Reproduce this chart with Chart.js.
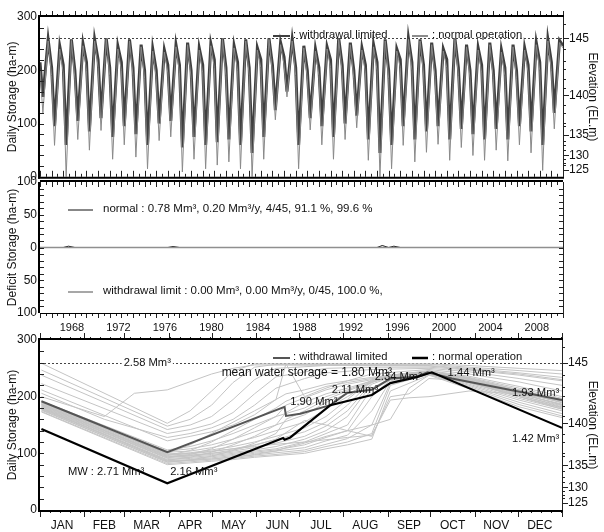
<!DOCTYPE html>
<html>
<head>
<meta charset="utf-8">
<title>Daily storage</title>
<script src="https://cdn.jsdelivr.net/npm/chart.js@4.4.1/dist/chart.umd.min.js"></script>
<style>
  body { margin: 0; background: #fff; }
  #wrap { position: relative; width: 604px; height: 532px; overflow: hidden; }
  #wrap canvas { position: absolute; left: 0; }
</style>
</head>
<body>
<div id="wrap">
  <canvas id="topChart" width="604" height="190" style="top:0"></canvas>
  <canvas id="deficitChart" width="604" height="165" style="top:170px"></canvas>
  <canvas id="yearChart" width="604" height="207" style="top:325px"></canvas>
</div>
<script>
// ---- top panel: one set of key values per year, 1966-2010
const startYear = 1966;
const yearLabels = [1968, 1972, 1976, 1980, 1984, 1988, 1992, 1996, 2000, 2004, 2008];

const wlJan    = [215, 205, 210, 200, 215, 220, 205, 215, 205, 200, 200, 210, 210, 200, 210, 220, 205, 215, 205, 220, 210, 225, 205, 200, 205, 220, 210, 200, 210, 215, 200, 220, 215, 210, 200, 220, 205, 200, 210, 200, 205, 200, 210, 215, 215];
const wlTrough = [150, 95, 60, 105, 85, 110, 75, 95, 80, 60, 100, 105, 55, 75, 60, 65, 70, 60, 45, 75, 125, 160, 60, 110, 95, 75, 100, 115, 70, 45, 60, 95, 70, 85, 95, 70, 90, 80, 70, 90, 70, 95, 85, 60, 120];
const wlPeak   = [258, 245, 258, 250, 258, 260, 245, 258, 248, 240, 238, 248, 252, 242, 250, 260, 246, 258, 242, 260, 252, 258, 246, 240, 244, 260, 252, 242, 248, 258, 240, 260, 258, 252, 240, 260, 248, 242, 252, 238, 248, 242, 252, 258, 256];

const noJan    = [200, 190, 195, 185, 200, 205, 190, 200, 190, 185, 185, 195, 195, 185, 195, 205, 190, 200, 190, 205, 195, 210, 190, 185, 190, 205, 195, 185, 195, 200, 185, 205, 200, 195, 185, 205, 190, 185, 195, 185, 190, 185, 195, 200, 200];
const noTrough = [120, 59, 0, 70, 50, 87, 33, 60, 37, 15, 68, 75, 9, 33, 15, 22, 28, 15, 0, 33, 107, 150, 15, 88, 60, 33, 70, 92, 31, 0, 15, 59, 28, 46, 61, 31, 55, 40, 31, 50, 30, 60, 45, 12, 90];
const noPeak   = [255, 240, 256, 246, 255, 258, 240, 255, 244, 236, 234, 244, 248, 238, 246, 258, 242, 255, 238, 258, 248, 255, 242, 236, 240, 258, 248, 238, 244, 255, 236, 258, 255, 248, 236, 258, 244, 238, 248, 234, 244, 238, 248, 255, 252];
const endValues = [246, 242]; // end of 2010: withdrawal limited, normal

// ---- elevation axis: storage (ha-m) at each elevation mark
const elevLabels = [145, 140, 135, 130, 125];
const elevStorage = [260, 153, 79, 40, 13];
const elevMinorStorage = [287, 239, 217, 202, 184, 166, 134, 120, 101, 96, 68, 59, 50, 33, 26, 22];
const fullStorage = 260;

// ---- deficit panel
const normalDeficit = [0, 0, 2, 0, 0, 0, 0, 0, 0, 0, 0, 1.5, 0, 0, 0, 0, 0, 0, 0, 0, 0, 0, 0, 0, 0, 0, 0, 0, 0, 3, 2, 0, 0, 0, 0, 0, 0, 0, 0, 0, 0, 0, 0, 0, 0];
const limitDeficit  = [0, 0, 0, 0, 0, 0, 0, 0, 0, 0, 0, 0, 0, 0, 0, 0, 0, 0, 0, 0, 0, 0, 0, 0, 0, 0, 0, 0, 0, 0, 0, 0, 0, 0, 0, 0, 0, 0, 0, 0, 0, 0, 0, 0, 0];

// ---- annual panel (day of year)
const months = ['JAN', 'FEB', 'MAR', 'APR', 'MAY', 'JUN', 'JUL', 'AUG', 'SEP', 'OCT', 'NOV', 'DEC'];
const monthStart = [0, 31, 59, 90, 120, 151, 181, 212, 243, 273, 304, 334, 365];
const n = null;
const dayGrid = [1, 45, 66, 89, 105, 120, 135, 150, 165, 172, 185, 200, 215, 232, 245, 258, 272, 300, 335, 365];
const yearLines = [
  [259, n, n, 153, 175, 210, 245, 258, n, n, n, n, n, n, n, n, 258, 255, 250, 246],
  [247, n, n, 148, 160, 185, 225, 252, 257, n, n, n, n, n, n, n, 257, 252, 246, 240],
  [238, n, n, 142, 150, 165, 195, 230, 250, n, n, 255, n, n, n, n, 255, 250, 242, 234],
  [223, n, n, 135, 142, 152, 172, 205, 235, n, n, 250, n, 252, n, n, 252, 247, 238, 228],
  [206, 160, n, 128, 135, 145, 160, 185, 215, n, 232, 242, n, 248, n, n, 250, 244, 232, 220],
  [200, 165, 206, 212, n, 240, 250, 256, n, n, n, n, n, n, n, n, 254, 248, 240, 230],
  [212, n, n, 122, 130, 138, 150, 168, 195, 258, 200, 215, 228, 240, n, n, 248, 240, 226, 210],
  [192, n, n, 106, 112, 122, 135, 150, 165, n, 180, 200, 212, 228, 238, n, 246, 236, 218, 200],
  [190, n, n, 104, 108, 115, 125, 138, 150, n, 168, 190, 205, 225, 236, n, 245, 234, 215, 197],
  [189, n, n, 102, 104, 110, 118, 128, 140, n, 155, 178, 200, 226, 236, n, 245, 232, 212, 195],
  [187, n, n, 99, 101, 106, 112, 120, 130, n, 145, 165, 195, 230, 238, n, 244, 231, 210, 192],
  [186, n, n, 97, 99, 103, 108, 115, 124, n, 138, 155, 185, 228, 236, n, 244, 230, 208, 190],
  [184, n, n, 95, 97, 100, 104, 110, 118, n, 130, 148, 175, 225, 235, n, 243, 228, 205, 187],
  [183, n, n, 93, 95, 98, 102, 106, 112, n, 125, 140, 165, 222, 234, n, 243, 226, 202, 184],
  [181, n, n, 91, 93, 96, 100, 104, 108, n, 120, 135, 150, 215, 232, n, 242, 224, 200, 181],
  [179, n, n, 89, 91, 94, 98, 102, 106, n, 115, 128, 140, 200, 230, n, 242, 222, 197, 178],
  [178, n, n, 87, 89, 92, 96, 100, 104, n, 110, 122, 132, 175, 228, n, 241, 220, 194, 175],
  [176, n, n, 85, 87, 90, 93, 97, 101, n, 106, 116, 126, 150, 225, n, 240, 218, 190, 170],
  [174, n, n, 82, 85, 88, 91, 95, 98, n, 103, 112, 120, 135, 220, n, 240, 216, 186, 166],
  [173, n, n, 80, 83, 86, 89, 93, 96, n, 100, 108, 115, 125, 210, n, 238, 214, 182, 163],
  [188, n, n, 100, 115, 135, 155, 175, 195, 205, 212, 222, 228, 234, 238, n, 245, 233, 212, 194],
  [185, n, n, 96, 105, 120, 140, 160, 180, 192, 205, 218, 225, 232, 237, n, 244, 231, 209, 189],
  [182, n, n, 92, 98, 108, 125, 145, 165, 185, 198, 212, 222, 230, 236, n, 244, 229, 206, 185],
  [180, n, n, 88, 93, 102, 115, 130, 150, 172, 190, 205, 215, 228, 235, n, 243, 227, 203, 182],
  [177, n, n, 84, 88, 95, 105, 118, 135, 160, 175, 195, 210, 226, 234, n, 242, 225, 200, 178],
  [191, n, n, 98, 100, 104, 108, 112, 116, n, 120, 124, 128, 132, 194, 198, 200, 210, 205, 192],
  [186, n, n, 94, 96, 100, 106, 114, 125, n, 158, 150, 140, 130, 200, 205, 232, 228, 205, 186],
  [180, n, n, 86, 88, 90, 94, 98, 104, 110, 118, 130, 140, 150, 160, 215, 238, 226, 200, 180]
];
const wlMeanDays = [1, 89, 171, 172, 182, 203, 215, 232, 245, 263, 271, 288, 365];
const wlMean     = [192, 102, 182, 166, 170, 185, 207, 212, 232, 235, 243, 232, 194];
const noMeanDays = [1, 89, 170, 171, 175, 203, 232, 245, 264, 274, 365];
const noMean     = [143, 47, 127, 124, 128, 185, 203, 224, 235, 243, 145];

const annualNotes = [
  { text: 'mean water storage = 1.80 Mm³', day: 127, value: 242, size: 12 },
  { text: 'MW : 2.71 Mm³', day: 19.5, value: 67, size: 11.2 },
  { text: '2.16 Mm³', day: 91, value: 67, size: 11.2 },
  { text: '1.90 Mm³', day: 175, value: 190, size: 11.2 },
  { text: '2.11 Mm³', day: 204, value: 212, size: 11.2 },
  { text: '2.34 Mm³', day: 234, value: 235, size: 11.2 },
  { text: '1.44 Mm³', day: 285, value: 242, size: 11.2 },
  { text: '1.93 Mm³', day: 330, value: 206, size: 11.2 },
  { text: '1.42 Mm³', day: 330, value: 125, size: 11.2 }
];

// ---------------------------------------------------------------
const FONT = '"Liberation Sans", Arial, sans-serif';
Chart.defaults.font.family = FONT;
Chart.defaults.font.size = 12;
Chart.defaults.color = '#111';

const crisp = v => Math.round(v) + 0.5;

function seg(ctx, x1, y1, x2, y2, w, color, dash) {
  ctx.save();
  ctx.strokeStyle = color;
  ctx.lineWidth = w;
  if (dash) ctx.setLineDash(dash);
  ctx.beginPath();
  ctx.moveTo(x1, y1);
  ctx.lineTo(x2, y2);
  ctx.stroke();
  ctx.restore();
}

function label(ctx, str, x, y, size, align, bg) {
  ctx.save();
  ctx.font = (size || 12) + 'px ' + FONT;
  ctx.textAlign = align || 'left';
  ctx.textBaseline = 'middle';
  if (bg) {
    const w = ctx.measureText(str).width;
    const x0 = align === 'center' ? x - w / 2 : x;
    ctx.fillStyle = '#fff';
    ctx.fillRect(x0 - 2, y - 6, w + 4, 12);
  }
  ctx.fillStyle = '#111';
  ctx.fillText(str, x, y);
  ctx.restore();
}

function drawFrame(chart) {
  const { ctx, chartArea: a } = chart;
  seg(ctx, a.left - 1, a.top - 2, a.left - 1, a.bottom + 2, 2, '#000');
  seg(ctx, a.left - 2, a.top - 1, a.right + 1, a.top - 1, 2, '#000');
  seg(ctx, a.left - 2, a.bottom + 1, a.right + 1, a.bottom + 1, 2, '#000');
  seg(ctx, crisp(a.right), a.top, crisp(a.right), a.bottom, 1, '#222');
}

function drawElevTicks(chart) {
  const { ctx, chartArea: a, scales: { y2 } } = chart;
  elevStorage.forEach(v => {
    const py = crisp(y2.getPixelForValue(v));
    seg(ctx, a.right, py, a.right + 6, py, 1, '#222');
  });
  elevMinorStorage.forEach(v => {
    const py = crisp(y2.getPixelForValue(v));
    seg(ctx, a.right, py, a.right + 3, py, 1, '#222');
  });
}

function drawLeftTicks(chart, step, from, to) {
  const { ctx, chartArea: a, scales: { y } } = chart;
  for (let v = from; v <= to; v += step) {
    const py = crisp(y.getPixelForValue(v));
    seg(ctx, a.left, py, a.left + 4, py, 1, '#222');
  }
}

function drawFullLine(chart) {
  const { ctx, chartArea: a, scales: { y } } = chart;
  const py = crisp(y.getPixelForValue(fullStorage));
  seg(ctx, a.left, py, a.right, py, 1, '#444', [2, 2]);
}

function legendPair(ctx, y, first, second) {
  seg(ctx, 273, y, 290, y, first.w, first.color);
  label(ctx, ': withdrawal limited', 293, y - 1, 11.2);
  seg(ctx, 412, y, 428, y, second.w, second.color);
  label(ctx, ': normal operation', 432, y - 1, 11.2);
}

function elevAxis(width) {
  return {
    position: 'right', min: 0, max: 300,
    afterBuildTicks: s => { s.ticks = elevStorage.map(v => ({ value: v })); },
    afterFit: s => { s.width = width; },
    ticks: { padding: 6, autoSkip: false, callback: (v, i) => elevLabels[i] },
    grid: { display: false, drawTicks: false },
    border: { display: false },
    title: { display: true, text: 'Elevation (EL.m)', padding: { top: 4, bottom: 0 } }
  };
}

function storageAxis(title, values, fmt) {
  return {
    position: 'left', min: values[0], max: values[values.length - 1],
    afterBuildTicks: s => { s.ticks = values.map(v => ({ value: v })); },
    afterFit: s => { s.width = 40; },
    ticks: { padding: 3, autoSkip: false, callback: fmt || (v => v) },
    grid: { display: false, drawTicks: false },
    border: { display: false },
    title: { display: true, text: title, padding: { top: 5, bottom: 0 } }
  };
}

// ---- top chart
function yearSeries(jan, trough, peak, endVal) {
  const pts = [];
  jan.forEach((v, i) => {
    const yr = startYear + i;
    pts.push({ x: yr, y: v }, { x: yr + 0.25, y: trough[i] }, { x: yr + 0.7, y: peak[i] });
  });
  pts.push({ x: startYear + jan.length, y: endVal });
  return pts;
}

const topPlugin = {
  id: 'topDecor',
  beforeDatasetsDraw: chart => drawFullLine(chart),
  afterDraw: chart => {
    const { ctx, chartArea: a, scales: { x } } = chart;
    for (let t = startYear; t <= startYear + 45; t += 0.5) {
      const px = crisp(x.getPixelForValue(t));
      const len = Number.isInteger(t) ? 6 : 3;
      seg(ctx, px, a.top, px, a.top - len, 1, '#222');
      seg(ctx, px, a.bottom, px, a.bottom - len, 1, '#222');
    }
    drawLeftTicks(chart, 20, 20, 280);
    drawElevTicks(chart);
    drawFrame(chart);
    legendPair(ctx, 36, { w: 2, color: '#404040' }, { w: 1.5, color: '#666' });
  }
};

new Chart(document.getElementById('topChart'), {
  type: 'line',
  data: {
    datasets: [
      { label: 'normal operation', data: yearSeries(noJan, noTrough, noPeak, endValues[1]),
        borderColor: '#8a8a8a', borderWidth: 1, pointRadius: 0 },
      { label: 'withdrawal limited', data: yearSeries(wlJan, wlTrough, wlPeak, endValues[0]),
        borderColor: '#404040', borderWidth: 3, pointRadius: 0 }
    ]
  },
  options: {
    responsive: false, animation: false,
    layout: { padding: { top: 17, left: 0, right: 0, bottom: 0 } },
    plugins: { legend: { display: false }, tooltip: { enabled: false } },
    scales: {
      x: { type: 'linear', min: startYear, max: startYear + 45,
        ticks: { display: false }, grid: { display: false, drawTicks: false }, border: { display: false },
        afterFit: s => { s.height = 10; } },
      y: storageAxis('Daily Storage (ha-m)', [0, 100, 200, 300]),
      y2: elevAxis(41)
    }
  },
  plugins: [topPlugin]
});

// ---- deficit chart
function deficitSeries(values) {
  const pts = [];
  values.forEach((v, i) => {
    const yr = startYear + i;
    pts.push({ x: yr, y: 0 }, { x: yr + 0.45, y: v });
  });
  pts.push({ x: startYear + values.length, y: 0 });
  return pts;
}

const deficitPlugin = {
  id: 'deficitDecor',
  afterDraw: chart => {
    const { ctx, chartArea: a, scales: { x, y } } = chart;
    for (let t = startYear; t <= startYear + 45; t += 0.5) {
      const px = crisp(x.getPixelForValue(t));
      const len = Number.isInteger(t) ? 5 : 3;
      seg(ctx, px, a.top, px, a.top + len, 1, '#222');
      seg(ctx, px, a.bottom, px, a.bottom + len, 1, '#222');
    }
    for (let v = -90; v <= 90; v += 10) {
      const py = crisp(y.getPixelForValue(v));
      seg(ctx, a.left, py, a.left + 4, py, 1, '#222');
      seg(ctx, a.right, py, a.right - 4, py, 1, '#222');
    }
    seg(ctx, a.left - 1, a.top, a.left - 1, a.bottom, 2, '#000');
    seg(ctx, a.left, a.top - 1, a.right, a.top - 1, 2, '#000');
    seg(ctx, a.left, crisp(a.bottom), a.right, crisp(a.bottom), 1, '#000');
    seg(ctx, crisp(a.right), a.top, crisp(a.right), a.bottom, 1, '#222');
    seg(ctx, 68, 210 - 170, 93, 210 - 170, 1, '#111');
    label(ctx, 'normal : 0.78 Mm³, 0.20 Mm³/y, 4/45, 91.1 %, 99.6 %', 103, 210 - 171, 11.5);
    seg(ctx, 68, 292 - 170, 93, 292 - 170, 1.5, '#8a8a8a');
    label(ctx, 'withdrawal limit : 0.00 Mm³, 0.00 Mm³/y, 0/45, 100.0 %,', 103, 292 - 171, 11.5);
  }
};

new Chart(document.getElementById('deficitChart'), {
  type: 'line',
  data: {
    datasets: [
      { label: 'withdrawal limit', data: deficitSeries(limitDeficit.map(v => -v)),
        borderColor: '#8f8f8f', borderWidth: 1.5, pointRadius: 0 },
      { label: 'normal', data: deficitSeries(normalDeficit),
        borderColor: '#111', borderWidth: 1, pointRadius: 0 }
    ]
  },
  options: {
    responsive: false, animation: false,
    layout: { padding: { top: 12, left: 0, right: 0, bottom: 0 } },
    plugins: { legend: { display: false }, tooltip: { enabled: false } },
    scales: {
      x: { type: 'linear', min: startYear, max: startYear + 45,
        afterBuildTicks: s => { s.ticks = yearLabels.map(v => ({ value: v + 0.75 })); },
        afterFit: s => { s.height = 22; },
        ticks: { padding: 8, autoSkip: false, maxRotation: 0, font: { size: 11 }, callback: v => String(Math.floor(v)) },
        grid: { display: false, drawTicks: false }, border: { display: false } },
      y: storageAxis('Deficit Storage (ha-m)', [-100, -50, 0, 50, 100], v => Math.abs(v)),
      y2: { position: 'right', min: -100, max: 100, display: true,
        ticks: { display: false }, grid: { display: false, drawTicks: false }, border: { display: false },
        afterFit: s => { s.width = 41; } }
    }
  },
  plugins: [deficitPlugin]
});

// ---- annual chart
const annualPlugin = {
  id: 'annualDecor',
  beforeDatasetsDraw: chart => drawFullLine(chart),
  afterDraw: chart => {
    const { ctx, chartArea: a, scales: { x, y } } = chart;
    for (let d = 0; d <= 365; d += 7) {
      const px = crisp(x.getPixelForValue(d));
      seg(ctx, px, a.top, px, a.top - 3, 1, '#222');
      seg(ctx, px, a.bottom, px, a.bottom + 3, 1, '#222');
    }
    monthStart.forEach(d => {
      const px = crisp(x.getPixelForValue(d));
      seg(ctx, px, a.top, px, a.top - 7, 1, '#222');
      seg(ctx, px, a.bottom, px, a.bottom + 7, 1, '#222');
    });
    drawLeftTicks(chart, 20, 20, 280);
    drawElevTicks(chart);
    drawFrame(chart);
    legendPair(ctx, 358 - 325, { w: 2, color: '#555' }, { w: 2.5, color: '#000' });
    label(ctx, '2.58 Mm³', x.getPixelForValue(75), y.getPixelForValue(fullStorage), 11.2, 'center', true);
    annualNotes.forEach(nt => label(ctx, nt.text, x.getPixelForValue(nt.day), y.getPixelForValue(nt.value), nt.size));
  }
};

const annualSets = [
  { label: 'normal operation', data: noMeanDays.map((d, i) => ({ x: d, y: noMean[i] })),
    borderColor: '#000', borderWidth: 2.2, pointRadius: 0 },
  { label: 'withdrawal limited', data: wlMeanDays.map((d, i) => ({ x: d, y: wlMean[i] })),
    borderColor: '#555', borderWidth: 2, pointRadius: 0 }
];
yearLines.forEach((vals, k) => {
  annualSets.push({ label: 'year ' + (k + 1), data: dayGrid.map((d, i) => ({ x: d, y: vals[i] })),
    borderColor: '#c4c4c4', borderWidth: 1, pointRadius: 0, spanGaps: true });
});

new Chart(document.getElementById('yearChart'), {
  type: 'line',
  data: { datasets: annualSets },
  options: {
    responsive: false, animation: false,
    layout: { padding: { top: 15, left: 0, right: 0, bottom: 0 } },
    plugins: { legend: { display: false }, tooltip: { enabled: false } },
    scales: {
      x: { type: 'linear', min: 0, max: 365,
        afterBuildTicks: s => { s.ticks = months.map((m, i) => ({ value: (monthStart[i] + monthStart[i + 1]) / 2 })); },
        afterFit: s => { s.height = 22; },
        ticks: { padding: 8, autoSkip: false, maxRotation: 0, callback: (v, i) => months[i] },
        grid: { display: false, drawTicks: false }, border: { display: false } },
      y: storageAxis('Daily Storage (ha-m)', [0, 100, 200, 300]),
      y2: elevAxis(42)
    }
  },
  plugins: [annualPlugin]
});
</script>
</body>
</html>
